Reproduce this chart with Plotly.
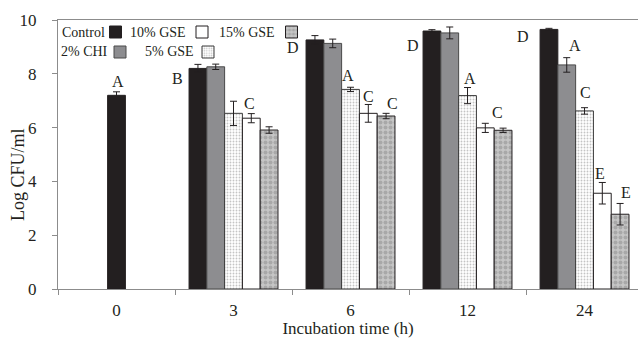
import plotly.graph_objects as go

# ---------------- data ----------------
times = ["0", "3", "6", "12", "24"]

control = [7.20, 8.20, 9.26, 9.59, 9.65]
control_err = [0.13, 0.15, 0.16, 0.05, 0.04]

chi2 = [None, 8.26, 9.13, 9.52, 8.33]
chi2_err = [None, 0.10, 0.16, 0.22, 0.27]

gse5 = [None, 6.53, 7.42, 7.19, 6.62]
gse5_err = [None, 0.45, 0.08, 0.30, 0.12]

gse10 = [None, 6.35, 6.53, 5.99, 3.56]
gse10_err = [None, 0.17, 0.33, 0.17, 0.40]

gse15 = [None, 5.91, 6.43, 5.90, 2.78]
gse15_err = [None, 0.12, 0.10, 0.08, 0.40]

# significance letters: (x position in category units, y value, letter)
letters_x = [0.01, 0.517, 1.133, 1.509, 1.979, 2.15, 2.363, 2.534, 3.021, 3.26, 3.474, 3.919, 4.004, 4.132, 4.355]
letters_y = [7.70, 7.84, 6.91, 8.96, 7.92, 7.14, 6.91, 9.07, 7.81, 6.58, 9.37, 9.07, 7.32, 4.31, 3.57]
letters_t = ["A", "B", "C", "D", "A", "C", "C", "D", "A", "C", "D", "A", "C", "E", "E"]

FONT = "Liberation Serif, Times New Roman, serif"
INK = "#231f20"
AX = "#8c8c8c"

fig = go.Figure()

def err(a):
    return dict(type="data", array=[v if v is not None else 0 for v in a],
                color=INK, thickness=1, width=3.5, visible=True)

fig.add_trace(go.Bar(x=times[1:], y=control[1:], error_y=err(control_err[1:]), name="",
                     offsetgroup="g1", legend="legend",
                     marker=dict(color=INK, line=dict(color=INK, width=1))))
fig.add_trace(go.Bar(x=times, y=chi2, error_y=err(chi2_err), name="",
                     offsetgroup="g2", legend="legend4",
                     marker=dict(color="#8d8d90", line=dict(color="#4a4a4a", width=1))))
fig.add_trace(go.Bar(x=times, y=gse5, error_y=err(gse5_err), name="",
                     offsetgroup="g3", legend="legend5",
                     marker=dict(color="white", line=dict(color="#3a3a3a", width=1),
                                 pattern=dict(shape=".", fgcolor="#8a8a8a", bgcolor="white",
                                              size=3, solidity=0.3))))
fig.add_trace(go.Bar(x=times, y=gse10, error_y=err(gse10_err), name="",
                     offsetgroup="g4", legend="legend2",
                     marker=dict(color="white", line=dict(color=INK, width=1))))
fig.add_trace(go.Bar(x=times, y=gse15, error_y=err(gse15_err), name="",
                     offsetgroup="g5", legend="legend3",
                     marker=dict(color="#b9b9b9", line=dict(color=INK, width=1),
                                 pattern=dict(shape=".", fgcolor="#8a8a8a", bgcolor="#c6c6c6",
                                              size=5, solidity=0.5))))
# Control at 0 h sits in the middle slot, as in the original figure
fig.add_trace(go.Bar(x=times[:1], y=control[:1], error_y=err(control_err[:1]), name="",
                     offsetgroup="g3", showlegend=False,
                     marker=dict(color=INK, line=dict(color=INK, width=1))))

for x, y, t in zip(letters_x, letters_y, letters_t):
    fig.add_annotation(x=x, y=y, text=t, showarrow=False, xanchor="center", yanchor="middle",
                       font=dict(family=FONT, size=16, color=INK))

# legend texts (text precedes its swatch in the original)
L, W = 58, 580
leg_text = ["Control", "10% GSE", "15% GSE", "2% CHI", "5% GSE"]
leg_text_right = [107, 188, 277, 110, 196]
leg_text_y = [32, 32, 32, 52, 52]
leg_sym_x = [115.5, 202, 291.5, 120, 208]
PT, PH = 20, 269
for t, xr, yy in zip(leg_text, leg_text_right, leg_text_y):
    fig.add_annotation(xref="paper", yref="paper", x=(xr - L) / W, y=1 - (yy - PT) / PH,
                       text=t, showarrow=False, xanchor="right", yanchor="middle",
                       font=dict(family=FONT, size=14, color=INK))

legend_style = dict(bgcolor="rgba(0,0,0,0)", borderwidth=0, xanchor="left", yanchor="middle",
                    font=dict(family=FONT, size=12, color=INK), itemwidth=30)
leg_names = ["legend", "legend2", "legend3", "legend4", "legend5"]
for nm, sx, yy in zip(leg_names, leg_sym_x, leg_text_y):
    fig.update_layout({nm: dict(legend_style, x=(sx - 20 - L) / W, y=1 - (yy - PT) / PH)})

# y-axis title as rotated text
fig.add_annotation(xref="paper", yref="paper", x=(18 - L) / W, y=(289 - 175) / PH,
                   text="Log CFU/ml", textangle=-90, showarrow=False,
                   xanchor="center", yanchor="middle",
                   font=dict(family=FONT, size=18, color=INK))

fig.update_layout(
    width=638, height=338,
    margin=dict(l=58, r=0, t=20, b=49),
    paper_bgcolor="white", plot_bgcolor="white",
    barmode="group", bargap=0.24, bargroupgap=0,
    showlegend=True,
    font=dict(family=FONT, size=17, color=INK),
    xaxis=dict(type="category", categoryorder="array", categoryarray=times,
               range=[-0.5, 4.457], tickson="boundaries", ticks="outside", ticklen=5,
               tickcolor=AX, showline=True, linecolor=AX, linewidth=1, mirror=True,
               showgrid=False, ticklabelstandoff=6,
               tickfont=dict(family=FONT, size=17, color=INK),
               title=dict(text="Incubation time (h)", standoff=2,
                          font=dict(family=FONT, size=17, color=INK))),
    yaxis=dict(range=[0, 10], tickvals=[0, 2, 4, 6, 8, 10], ticks="outside", ticklen=5,
               tickcolor=AX, showline=True, linecolor=AX, linewidth=1, showgrid=False,
               zeroline=False, ticklabelstandoff=12,
               tickfont=dict(family=FONT, size=17, color=INK)),
)

fig.write_html("out.html")
